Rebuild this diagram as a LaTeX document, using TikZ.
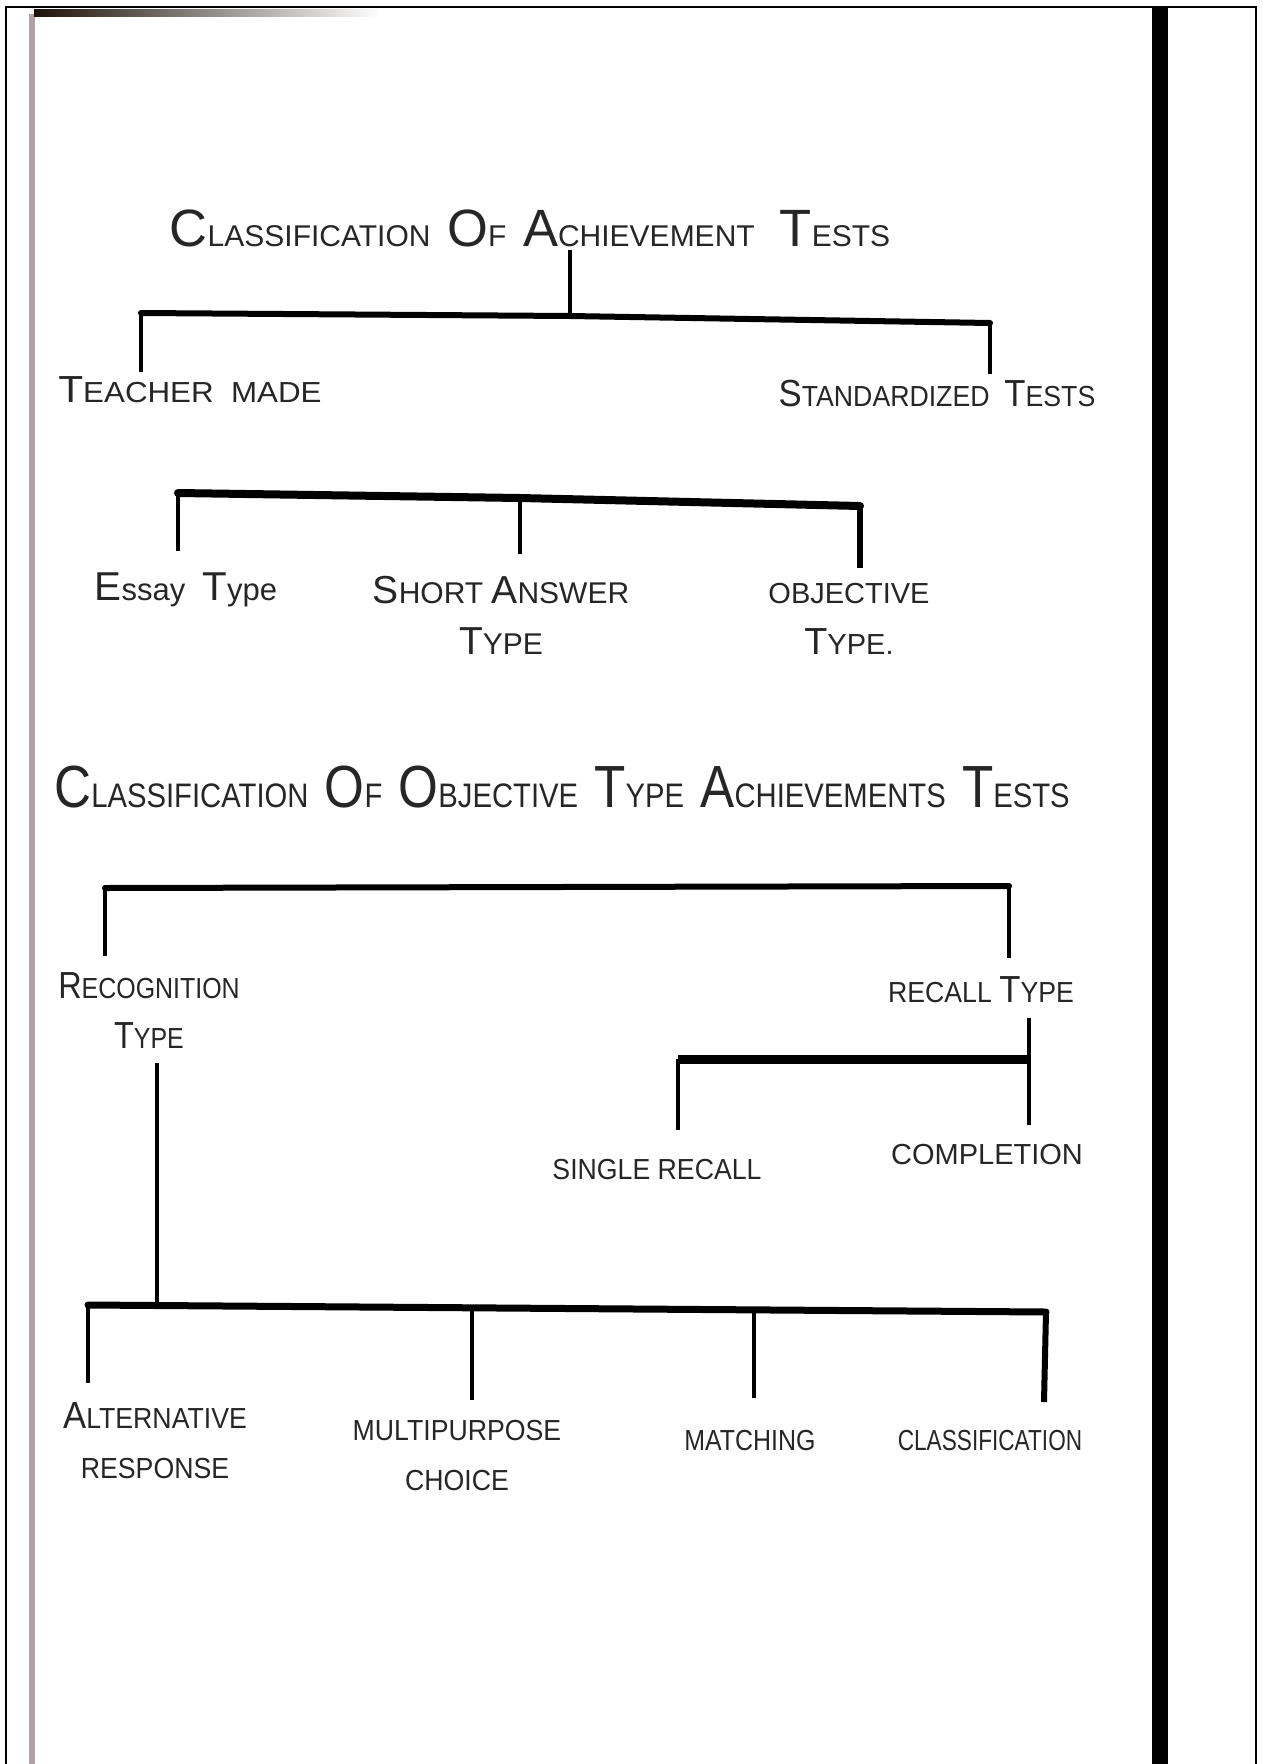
\documentclass[tikz,border=0pt]{standalone}
\usepackage{fontspec}
\setmainfont{Liberation Sans}
\newfontfamily\hwA{Liberation Sans}[FakeStretch=0.78]
\newfontfamily\hwB{Liberation Sans}[FakeStretch=0.86]
\newfontfamily\hwC{Liberation Sans}[FakeStretch=0.92]
\newfontfamily\hwD{Liberation Sans}[FakeStretch=1.0]
\newfontfamily\hwE{Liberation Sans}[FakeStretch=1.08]
\newcommand\K[2]{\scalebox{1.75}{#1}#2}
\newcommand\Bg[1]{\scalebox{1.3}{#1}}
\begin{document}
\begin{tikzpicture}[x=1pt,y=-1pt,
  ttl/.style={font=#1, text=black!85, inner sep=0pt},
  lbl/.style={font=#1\fontsize{29}{50}\selectfont, text=black!85, inner sep=0pt, align=center},
  bar/.style={line width=7pt, line cap=round},
  stem/.style={line width=4.5pt}]
\useasboundingbox (0,0) rectangle (1263,1764);
% page frame and scan artefacts
\draw[line width=2pt] (6,7) rectangle (1256,1766);
\draw[line width=6pt, color={rgb,255:red,175;green,162;blue,165}] (32,14) -- (32,1764);
\shade[left color=black!85!brown, right color=white] (34,9) rectangle (380,16);
\draw[line width=16pt] (1160,7) -- (1160,1764);

% ---- tree 1
\node[ttl={\hwD\fontsize{30}{36}\selectfont}] (t1) at (530,228) {\K{C}{LASSIFICATION} \ \K{O}{F} \ \K{A}{CHIEVEMENT} \ \ \K{T}{ESTS}};
\coordinate (j1) at (570,316);
\coordinate (l1) at (141,313);
\coordinate (r1) at (990,323);
\node[lbl=\hwE] (tm) at (190,390) {\Bg{T}EACHER \ MADE};
\node[lbl=\hwC] (st) at (937,394) {\Bg{S}TANDARDIZED \ \Bg{T}ESTS};
\draw[stem] (570,250) -- (j1);
\draw[bar, line width=6pt] (l1) -- (j1) -- (r1);
\draw[stem] (l1) -- (l1 |- 0,372);
\draw[stem] (r1) -- (r1 |- 0,374);

% ---- tree 2
\coordinate (l2) at (178,493);
\coordinate (m2) at (520,498);
\coordinate (r2) at (860,506);
\draw[bar, line width=8pt] (l2) -- (m2) -- (r2);
\draw[stem] (l2) -- (178,551);
\draw[stem] (m2) -- (520,554);
\draw[stem, line width=6pt] (r2) -- (860,568);
\node[lbl=\hwE, font=\fontsize{31}{51}\selectfont] (es) at (186,590) {\Bg{E}ssay \ \Bg{T}ype};
\node[lbl=\hwA, font=\fontsize{30}{51}\selectfont] (sa) at (501,615) {\Bg{S}HORT \Bg{A}NSWER\\\Bg{T}YPE};
\node[lbl=\hwD, font=\fontsize{29}{51}\selectfont] (ob) at (849,619) {OBJECTIVE\\\Bg{T}YPE.};

% ---- tree 3
\node[ttl={\hwB\fontsize{34}{40}\selectfont}] (t2) at (562,787) {\K{C}{LASSIFICATION} \ \K{O}{F} \ \K{O}{BJECTIVE} \ \K{T}{YPE} \ \K{A}{CHIEVEMENTS} \ \K{T}{ESTS}};
\coordinate (l3) at (105,888);
\coordinate (r3) at (1009,886);
\draw[bar, line width=6pt] (l3) -- (r3);
\draw[stem] (l3) -- (105,956);
\draw[stem] (r3) -- (1009,958);
\node[lbl=\hwB] (rec) at (149,1011) {\Bg{R}ECOGNITION\\\Bg{T}YPE};
\node[lbl=\hwC] (rt) at (981,990) {RECALL \Bg{T}YPE};

% recall branch
\coordinate (rv) at (1029,1059);
\coordinate (sl) at (678,1059);
\draw[stem] (1029,1018) -- (rv) -- (1029,1125);
\draw[bar, line width=9pt, line cap=butt] (sl) -- (rv);
\draw[stem] (sl) -- (678,1130);
\node[lbl=\hwC] (sr) at (657,1170) {SINGLE RECALL};
\node[lbl=\hwD] (co) at (987,1155) {COMPLETION};

% recognition branch
\coordinate (jv) at (157,1306);
\draw[stem] (157,1063) -- (jv);
\coordinate (l4) at (88,1305);
\coordinate (r4) at (1046,1312);
\draw[bar, line width=7pt] (l4) -- (r4);
\draw[stem] (l4) -- (88,1383);
\draw[stem] (472,1310) -- (472,1400);
\draw[stem] (754,1311) -- (754,1398);
\draw[stem, line width=6pt] (r4) -- (1044,1402);
\node[lbl=\hwC] (alt) at (155,1441) {\Bg{A}LTERNATIVE\\RESPONSE};
\node[lbl=\hwC] (mp) at (457,1455) {MULTIPURPOSE\\CHOICE};
\node[lbl=\hwB] (ma) at (750,1440) {MATCHING};
\node[lbl=\hwA] (cl) at (990,1440) {CLASSIFICATION};
\end{tikzpicture}
\end{document}
